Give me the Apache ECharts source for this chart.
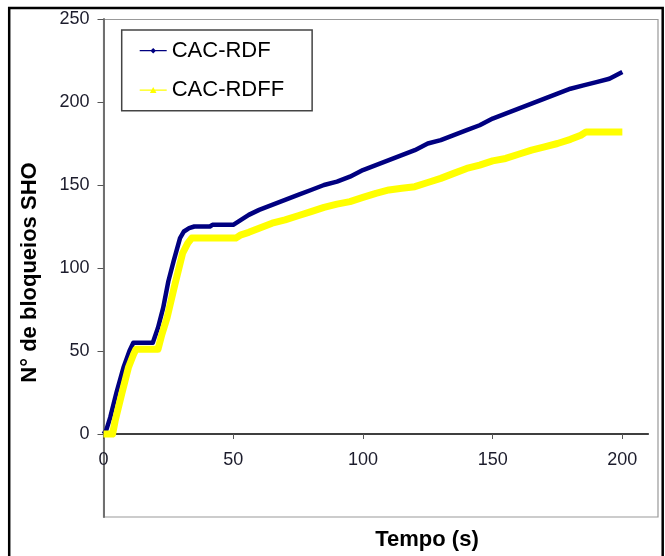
<!DOCTYPE html>
<html>
<head>
<meta charset="utf-8">
<script src="https://cdn.jsdelivr.net/npm/echarts@6/dist/echarts.min.js"></script>
<style>
html,body{margin:0;padding:0;background:#fff;}
#chart{width:665px;height:556px;}
</style>
</head>
<body>
<div id="chart"></div>
<script>
// Data
var seriesNames = ['CAC-RDF', 'CAC-RDFF'];
var rdfTime = [0, 1, 2.6, 5, 7.7, 10, 11.5, 19, 21, 23, 25, 27, 29.5, 31, 33, 35, 41, 42, 50, 53, 56, 60, 65, 70, 75, 80, 85, 90, 95, 100, 105, 110, 115, 120, 125, 130, 135, 140, 145, 150, 155, 160, 165, 170, 175, 180, 185, 190, 195, 200];
var rdfValues = [0, 2, 10, 25, 40, 50, 55, 55, 64, 76, 92, 104, 118, 122, 124, 125, 125, 126, 126, 129, 132, 135, 138, 141, 144, 147, 150, 152, 155, 159, 162, 165, 168, 171, 175, 177, 180, 183, 186, 190, 193, 196, 199, 202, 205, 208, 210, 212, 214, 218];
var rdffTime = [0, 3.5, 4.5, 7, 9.6, 11.6, 12.5, 21, 22.5, 24.5, 27.5, 30.5, 32.5, 34, 51, 53, 56, 60, 65, 70, 75, 80, 85, 90, 95, 100, 105, 110, 115, 120, 125, 130, 135, 140, 145, 150, 155, 160, 165, 170, 175, 180, 184, 186, 200];
var rdffValues = [0, 0, 8, 24, 40, 48, 51, 51, 60, 70, 90, 109, 115, 118, 118, 120, 121.5, 124, 127, 129, 131.5, 134, 136.5, 138.5, 140, 142.5, 145, 147, 148, 149, 151.5, 154, 157, 160, 162, 164.5, 166, 168.5, 171, 173, 175, 177.5, 180, 182, 182];
var xTicks = [0, 50, 100, 150, 200];
var yTicks = [0, 50, 100, 150, 200, 250];
var xTitle = 'Tempo (s)';
var yTitle = 'N° de bloqueios SHO';

function pairs(xs, ys) {
  var out = [];
  for (var i = 0; i < xs.length; i++) out.push([xs[i], ys[i]]);
  return out;
}

var chart = echarts.init(document.getElementById('chart'), null, {renderer: 'canvas'});
var fontFam = 'Liberation Sans, Arial, sans-serif';

chart.setOption({
  animation: false,
  backgroundColor: '#ffffff',
  grid: [
    {left: 103.5, right: 16.7, top: 19, bottom: 39, containLabel: false},
    {left: 103.5, right: 16.7, top: 19, bottom: 122, containLabel: false}
  ],
  xAxis: [
    {
      gridIndex: 0, type: 'value', min: 0, max: 210, interval: 50,
      axisLine: {show: true, onZero: true, lineStyle: {color: '#000', width: 1.6}},
      axisTick: {show: true, inside: false, length: 5, customValues: xTicks, lineStyle: {color: '#555', width: 1}},
      axisLabel: {show: false},
      splitLine: {show: false}
    },
    {
      gridIndex: 1, type: 'value', min: 0, max: 210, interval: 50,
      axisLine: {show: false},
      axisTick: {show: false},
      axisLabel: {customValues: xTicks, margin: 17, fontSize: 18, color: '#1c1c2c', fontFamily: fontFam},
      splitLine: {show: false}
    }
  ],
  yAxis: [
    {
      gridIndex: 0, type: 'value', min: -50, max: 250, interval: 50,
      axisLine: {show: true, onZero: false, lineStyle: {color: '#707070', width: 2}},
      axisTick: {show: true, length: 6, customValues: yTicks, lineStyle: {color: '#555', width: 1}},
      axisLabel: {customValues: yTicks, margin: 14, fontSize: 18, color: '#1c1c2c', fontFamily: fontFam},
      splitLine: {show: false}
    },
    {
      gridIndex: 1, type: 'value', min: 0, max: 250, interval: 50, show: false
    }
  ],
  legend: {
    orient: 'vertical',
    left: 121.7, top: 30,
    padding: [8.7, 28, 8.7, 18],
    itemGap: 15.3,
    itemWidth: 27, itemHeight: 8,
    borderColor: '#444', borderWidth: 1.5,
    backgroundColor: '#fff',
    itemStyle: {borderWidth: 0},
    textStyle: {fontSize: 22, color: '#000', fontFamily: fontFam, lineHeight: 24, padding: [0, 0, 0, 0]},
    data: [
      {name: seriesNames[0], icon: 'path://M0,3.4H27V4.6H0Z M13.5,1.2L16.3,4L13.5,6.8L10.7,4Z'},
      {name: seriesNames[1], icon: 'path://M0,3.4H27V4.6H0Z M13.5,0.8L16.8,7H10.2Z'}
    ]
  },
  graphic: [
    {type: 'rect', z: -1, shape: {x: 9.2, y: 8, width: 653.5, height: 560}, style: {fill: null, stroke: '#000', lineWidth: 2.5}},
    {type: 'rect', z: -1, shape: {x: 103.5, y: 19.5, width: 554.5, height: 497.5}, style: {fill: null, stroke: '#999', lineWidth: 1.2}},
    {type: 'text', x: 30, y: 272.5, rotation: Math.PI / 2,
      style: {text: yTitle, fontSize: 22, fontWeight: 'bold', fill: '#000', fontFamily: fontFam, align: 'center', verticalAlign: 'middle'}},
    {type: 'text', x: 427, y: 540,
      style: {text: xTitle, fontSize: 22, fontWeight: 'bold', fill: '#000', fontFamily: fontFam, align: 'center', verticalAlign: 'middle'}}
  ],
  series: [
    {
      name: seriesNames[0], type: 'line', xAxisIndex: 0, yAxisIndex: 0, data: pairs(rdfTime, rdfValues),
      symbol: 'none', smooth: false,
      itemStyle: {color: '#000080'},
      lineStyle: {color: '#000080', width: 4.5, join: 'round'},
      z: 2
    },
    {
      name: seriesNames[1], type: 'line', xAxisIndex: 0, yAxisIndex: 0, data: pairs(rdffTime, rdffValues),
      symbol: 'none', smooth: false,
      itemStyle: {color: '#ffff00'},
      lineStyle: {color: '#ffff00', width: 7, join: 'round'},
      z: 3
    }
  ]
});
</script>
</body>
</html>
